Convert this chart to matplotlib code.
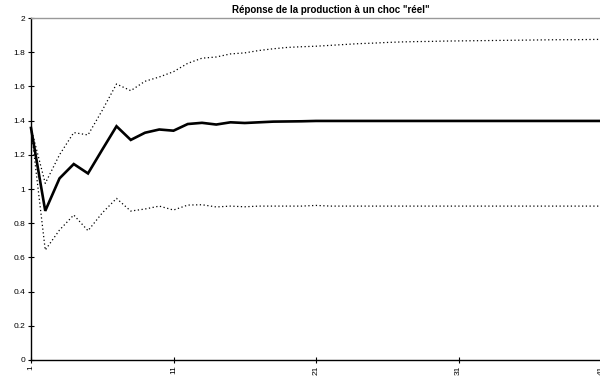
import matplotlib
matplotlib.use("Agg")
import matplotlib.pyplot as plt
import numpy as np

periods = list(range(1, 42))
response = [1.357, 0.872, 1.062, 1.146, 1.091, 1.23, 1.367, 1.287, 1.329, 1.348,
            1.341, 1.38, 1.387, 1.377, 1.39, 1.386, 1.39, 1.394, 1.395, 1.396,
            1.398, 1.398, 1.398, 1.398, 1.398, 1.398, 1.398, 1.398, 1.398, 1.398,
            1.398, 1.398, 1.398, 1.398, 1.398, 1.398, 1.398, 1.398, 1.398, 1.398, 1.398]
upper = [1.357, 1.033, 1.2, 1.33, 1.316, 1.46, 1.614, 1.575, 1.63, 1.655,
         1.686, 1.735, 1.765, 1.772, 1.79, 1.796, 1.81, 1.82, 1.828, 1.832,
         1.835, 1.84, 1.845, 1.85, 1.853, 1.857, 1.86, 1.862, 1.863, 1.865,
         1.866, 1.867, 1.868, 1.869, 1.87, 1.871, 1.872, 1.873, 1.873, 1.874, 1.875]
lower = [1.357, 0.643, 0.76, 0.848, 0.756, 0.86, 0.945, 0.871, 0.883, 0.9,
         0.877, 0.906, 0.908, 0.895, 0.9, 0.896, 0.9, 0.9, 0.9, 0.9,
         0.904, 0.9, 0.9, 0.9, 0.9, 0.9, 0.9, 0.9, 0.9, 0.9,
         0.9, 0.9, 0.9, 0.9, 0.9, 0.9, 0.9, 0.9, 0.9, 0.9, 0.9]
xticks = [1, 11, 21, 31, 41]
yticks = [0, 0.2, 0.4, 0.6, 0.8, 1, 1.2, 1.4, 1.6, 1.8, 2]
ylabels = ["0", "0.2", "0.4", "0.6", "0.8", "1", "1.2", "1.4", "1.6", "1.8", "2"]
title = 'Réponse de la production à un choc "réel"'

plt.rcParams['font.family'] = ['Liberation Sans', 'DejaVu Sans']

fig = plt.figure(figsize=(6, 3.76), dpi=100)
ax = fig.add_axes([31/600, 1-360/376, 570/600, 342/376])

ax.plot(periods, upper, color='black', linestyle=(0, (1, 2)), linewidth=0.9, clip_on=False)
ax.plot(periods, lower, color='black', linestyle=(0, (1, 2)), linewidth=0.9, clip_on=False)
ax.plot(periods, response, color='black', linewidth=1.9, clip_on=False,
        solid_joinstyle='miter')

ax.set_xlim(1, 41)
ax.set_ylim(0, 2)
ax.set_xticks(xticks)
ax.set_xticklabels([str(v) for v in xticks], rotation=90, fontsize=6)
ax.set_yticks(yticks)
ax.set_yticklabels(ylabels, fontsize=6)
ax.tick_params(direction='inout', length=5, width=0.8, pad=1.5)

for s in ['left', 'bottom']:
    ax.spines[s].set_color('black')
    ax.spines[s].set_linewidth(1.0)
ax.spines['top'].set_color('#999999')
ax.spines['top'].set_linewidth(1.0)
ax.spines['right'].set_visible(False)

fig.text(331/600, 1-10/376, title, ha='center', va='center', fontsize=7, fontweight='bold')

fig.savefig('out.png', dpi=100)
